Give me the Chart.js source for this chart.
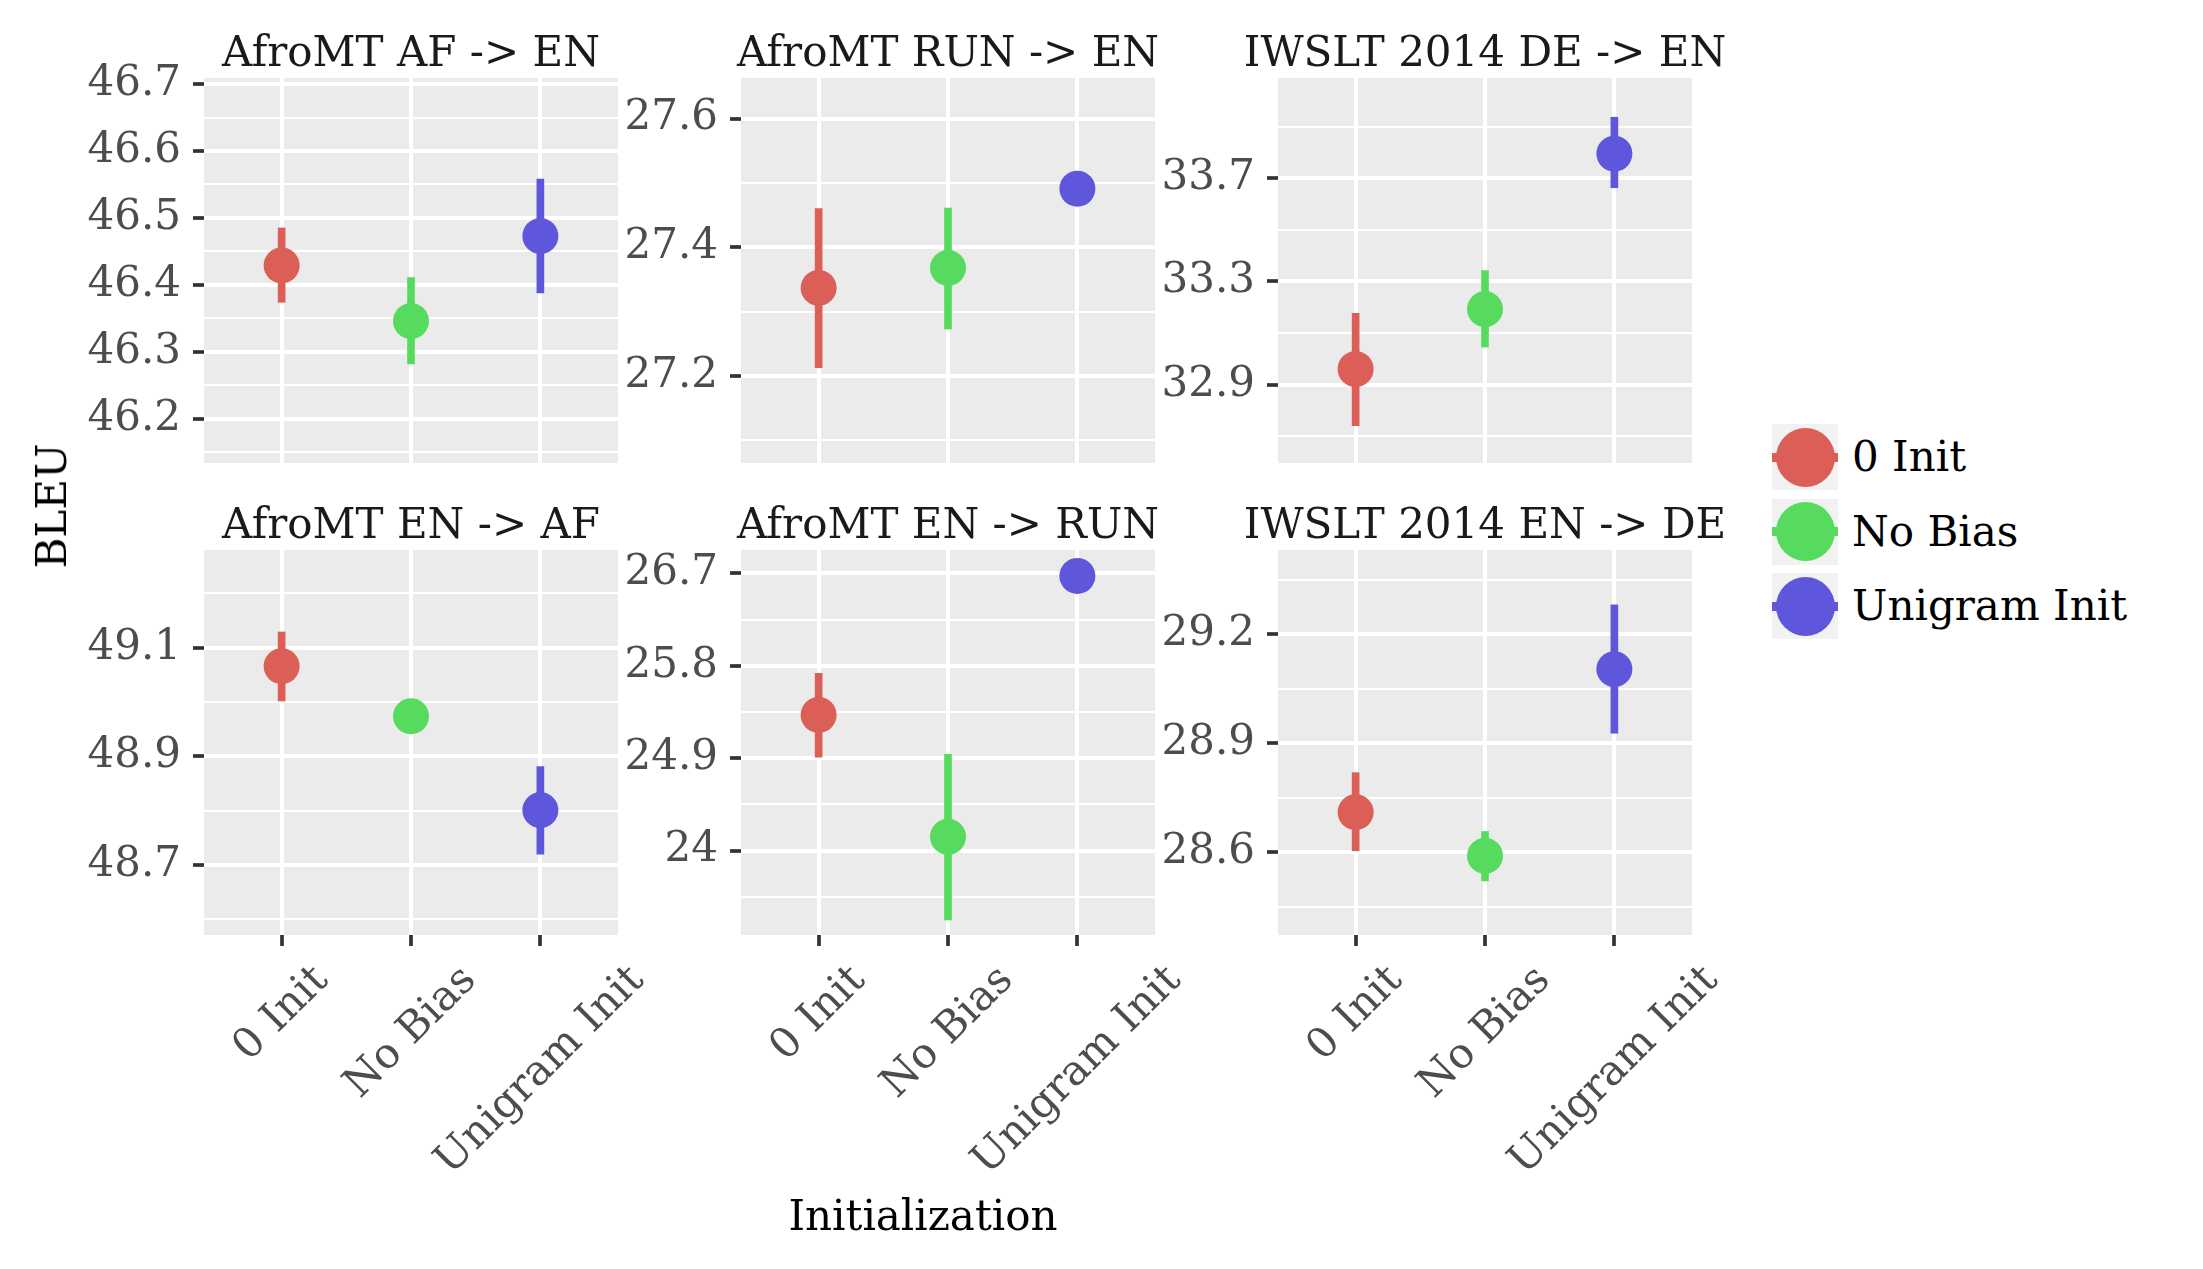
<!DOCTYPE html>
<html>
<head>
<meta charset="utf-8">
<title>BLEU by initialization</title>
<script src="https://cdn.jsdelivr.net/npm/chart.js@4.4.1/dist/chart.umd.min.js"></script>
<style>
  html, body { margin: 0; padding: 0; background: #fff; }
  #wrap { position: relative; width: 2203px; height: 1269px; overflow: hidden;
          font-family: 'DejaVu Serif', serif; }
  #wrap canvas { position: absolute; }
  .axis-title { position: absolute; color: #000; font-size: 42px; white-space: nowrap;
                transform: translate(-50%, -50%); line-height: 1; }
  .axis-title.y { transform: translate(-50%, -50%) rotate(-90deg); }
  .legend-item { position: absolute; left: 1772px; height: 66px; display: flex; align-items: center; }
  .legend-item .key { position: relative; width: 66px; height: 66px; background: #f2f2f2; }
  .legend-item .stub { position: absolute; left: 0; right: 0; top: 28.5px; height: 9px; }
  .legend-item .dot { position: absolute; left: 3.5px; top: 3.5px; width: 59px; height: 59px; border-radius: 50%; }
  .legend-item .label { margin-left: 14px; font-size: 42px; color: #000; line-height: 66px; white-space: nowrap; }
</style>
</head>
<body>
<div id="wrap"></div>
<script>
const categories = ['0 Init', 'No Bias', 'Unigram Init'];
const categoryPos = [1, 2, 3];
const seriesColors = ['#DB5F57', '#57DB5F', '#5F57DB'];

const panelTitles = ['AfroMT AF -> EN', 'AfroMT RUN -> EN', 'IWSLT 2014 DE -> EN',
                     'AfroMT EN -> AF', 'AfroMT EN -> RUN', 'IWSLT 2014 EN -> DE'];

// one value per panel, in the order of panelTitles
const zeroInitMean = [46.429, 27.337, 32.961, 49.066, 25.320, 28.710];
const zeroInitLow  = [46.374, 27.213, 32.742, 49.002, 24.908, 28.604];
const zeroInitHigh = [46.485, 27.460, 33.177, 49.129, 25.726, 28.819];

const noBiasMean = [46.346, 27.368, 33.193, 48.974, 24.134, 28.590];
const noBiasLow  = [46.282, 27.273, 33.046, 48.960, 23.323, 28.521];
const noBiasHigh = [46.411, 27.461, 33.342, 48.988, 24.937, 28.657];

const unigramMean = [46.473, 27.491, 33.795, 48.801, 26.674, 29.104];
const unigramLow  = [46.388, 27.478, 33.663, 48.720, 26.600, 28.928];
const unigramHigh = [46.558, 27.504, 33.936, 48.881, 26.748, 29.281];

const yMin = [46.134, 27.065, 32.597, 48.571, 23.177, 28.372];
const yMax = [46.709, 27.663, 34.088, 49.280, 26.927, 29.432];
const yTickLabels = [
  ['46.2', '46.3', '46.4', '46.5', '46.6', '46.7'],
  ['27.2', '27.4', '27.6'],
  ['32.9', '33.3', '33.7'],
  ['48.7', '48.9', '49.1'],
  ['24', '24.9', '25.8', '26.7'],
  ['28.6', '28.9', '29.2']
];

// layout
const FONT = "'DejaVu Serif', serif";
const FONT_SIZE = 42;
const PANEL_LEFT = [204, 741, 1278];
const PANEL_TOP = [78, 550];
const PANEL_W = 414, PANEL_H = 385;
const AXIS_W = 150, STRIP_H = 78, RIGHT_PAD = 70, TICK_LEN = 11;

const wrap = document.getElementById('wrap');

const panelBackground = {
  id: 'panelBackground',
  beforeDraw(chart) {
    const {ctx, chartArea: a} = chart;
    ctx.save();
    ctx.fillStyle = '#ebebeb';
    ctx.fillRect(a.left, a.top, a.right - a.left, a.bottom - a.top);
    ctx.restore();
  }
};

const stripTitle = {
  id: 'stripTitle',
  afterDraw(chart, args, opts) {
    const {ctx, chartArea: a} = chart;
    ctx.save();
    ctx.font = FONT_SIZE + 'px ' + FONT;
    ctx.fillStyle = '#1a1a1a';
    ctx.textAlign = 'center';
    ctx.textBaseline = 'alphabetic';
    ctx.fillText(opts.text, (a.left + a.right) / 2, a.top - 12);
    ctx.restore();
  }
};

// category labels turned 45 degrees, centred under their tick like ggplot does
const rotatedLabels = {
  id: 'rotatedLabels',
  afterDraw(chart, args, opts) {
    if (!opts.show) return;
    const {ctx} = chart;
    const x = chart.scales.x;
    const s = Math.SQRT1_2;
    const h = FONT_SIZE * 0.73;
    ctx.save();
    ctx.font = FONT_SIZE + 'px ' + FONT;
    ctx.fillStyle = '#4d4d4d';
    ctx.textAlign = 'center';
    ctx.textBaseline = 'middle';
    categories.forEach((label, i) => {
      const px = x.getPixelForValue(categoryPos[i]);
      const w = ctx.measureText(label).width;
      const cy = chart.chartArea.bottom + 28 + s * (w + h) / 2;
      ctx.save();
      ctx.translate(px, cy);
      ctx.rotate(-Math.PI / 4);
      ctx.fillText(label, 0, 0);
      ctx.restore();
    });
    ctx.restore();
  }
};

panelTitles.forEach((title, p) => {
  const col = p % 3, row = Math.floor(p / 3);
  const bottomRow = row === 1;
  const top = PANEL_TOP[row] - STRIP_H;
  const cw = AXIS_W + PANEL_W + RIGHT_PAD;
  const ch = bottomRow ? 1269 - top : STRIP_H + PANEL_H;

  const canvas = document.createElement('canvas');
  canvas.width = cw;
  canvas.height = ch;
  canvas.style.left = (PANEL_LEFT[col] - AXIS_W) + 'px';
  canvas.style.top = top + 'px';
  wrap.appendChild(canvas);

  const means = [zeroInitMean[p], noBiasMean[p], unigramMean[p]];
  const lows = [zeroInitLow[p], noBiasLow[p], unigramLow[p]];
  const highs = [zeroInitHigh[p], noBiasHigh[p], unigramHigh[p]];

  const major = yTickLabels[p].map(Number);
  const step = major[1] - major[0];
  const minor = [];
  for (let k = -1; k < major.length; k++) {
    const v = major[0] + (k + 0.5) * step;
    if (v > yMin[p] && v < yMax[p]) minor.push(v);
  }
  const tickValues = major.concat(minor).sort((a, b) => a - b);
  const majorIndex = v => major.findIndex(m => Math.abs(m - v) < 1e-6);

  new Chart(canvas, {
    type: 'scatter',
    data: {
      datasets: [
        {
          type: 'scatter',
          data: categoryPos.map((x, i) => ({x: x, y: means[i]})),
          pointRadius: 18,
          pointHoverRadius: 18,
          pointBackgroundColor: seriesColors,
          pointBorderWidth: 0
        },
        {
          type: 'bar',
          data: categoryPos.map((x, i) => ({x: x, y: [lows[i], highs[i]]})),
          backgroundColor: seriesColors,
          barThickness: 7,
          borderWidth: 0
        }
      ]
    },
    options: {
      responsive: false,
      animation: false,
      devicePixelRatio: 1,
      events: [],
      layout: {
        autoPadding: false,
        padding: {
          top: STRIP_H,
          right: RIGHT_PAD,
          bottom: bottomRow ? ch - STRIP_H - PANEL_H - TICK_LEN : 0,
          left: 0
        }
      },
      plugins: {
        legend: {display: false},
        tooltip: {enabled: false},
        stripTitle: {text: title},
        rotatedLabels: {show: bottomRow}
      },
      scales: {
        x: {
          type: 'linear',
          min: 0.4,
          max: 3.6,
          offset: false,
          afterBuildTicks: s => { s.ticks = categoryPos.map(v => ({value: v})); },
          afterFit: s => { s.height = bottomRow ? TICK_LEN : 0; s.paddingLeft = 0; s.paddingRight = 0; },
          ticks: {display: false},
          border: {display: false},
          grid: {
            offset: false,
            color: '#ffffff',
            lineWidth: 4,
            drawTicks: bottomRow,
            tickLength: TICK_LEN,
            tickColor: '#333333',
            tickWidth: 3.7
          }
        },
        y: {
          type: 'linear',
          min: yMin[p],
          max: yMax[p],
          beginAtZero: false,
          afterBuildTicks: s => { s.ticks = tickValues.map(v => ({value: v})); },
          afterFit: s => { s.width = AXIS_W; s.paddingTop = 0; s.paddingBottom = 0; },
          border: {display: false},
          ticks: {
            autoSkip: false,
            padding: 12,
            color: '#4d4d4d',
            font: {family: FONT, size: FONT_SIZE},
            callback: v => {
              const i = majorIndex(v);
              return i >= 0 ? yTickLabels[p][i] : '';
            }
          },
          grid: {
            color: '#ffffff',
            lineWidth: c => majorIndex(c.tick.value) >= 0 ? 4 : 2,
            tickLength: TICK_LEN,
            tickWidth: 3.7,
            tickColor: c => majorIndex(c.tick.value) >= 0 ? '#333333' : 'rgba(0,0,0,0)'
          }
        }
      }
    },
    plugins: [panelBackground, stripTitle, rotatedLabels]
  });
});

// axis titles
const yTitle = document.createElement('div');
yTitle.className = 'axis-title y';
yTitle.textContent = 'BLEU';
yTitle.style.left = '52px';
yTitle.style.top = '506px';
wrap.appendChild(yTitle);

const xTitle = document.createElement('div');
xTitle.className = 'axis-title';
xTitle.textContent = 'Initialization';
xTitle.style.left = '923px';
xTitle.style.top = '1216px';
wrap.appendChild(xTitle);

// legend
categories.forEach((name, i) => {
  const item = document.createElement('div');
  item.className = 'legend-item';
  item.style.top = (424 + i * 74.5) + 'px';
  item.innerHTML = '<span class="key"><span class="stub" style="background:' + seriesColors[i] +
    '"></span><span class="dot" style="background:' + seriesColors[i] + '"></span></span>' +
    '<span class="label">' + name + '</span>';
  wrap.appendChild(item);
});
</script>
</body>
</html>
